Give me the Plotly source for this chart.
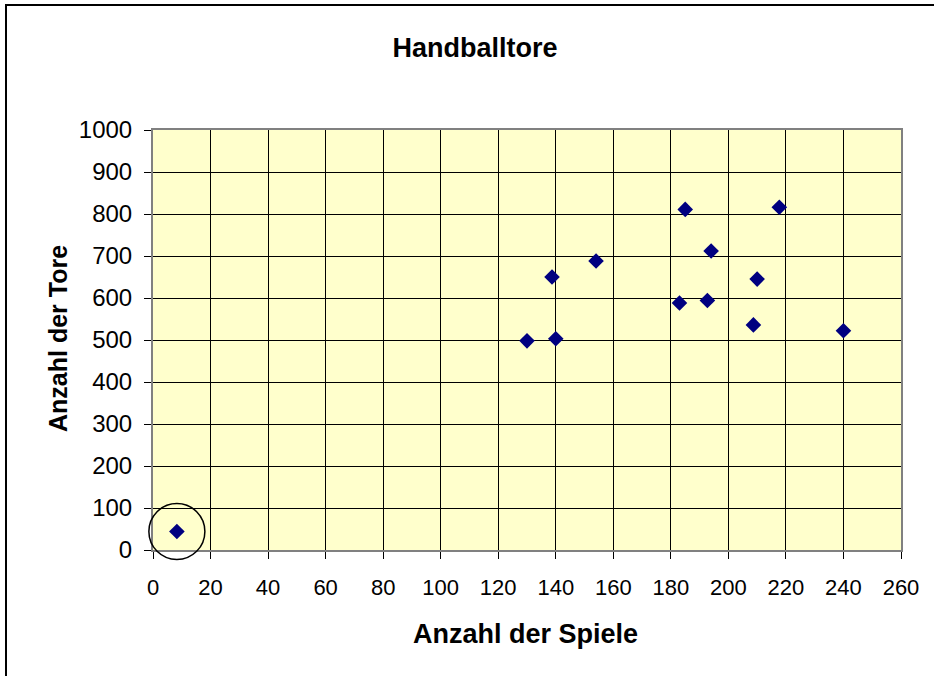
import plotly.graph_objects as go

# Data (Anzahl der Spiele, Anzahl der Tore)
spiele = [8.3, 130, 140, 138.7, 154, 185, 194, 183, 192.7, 217.7, 210, 208.7, 240]
tore = [44, 498, 503, 650, 688, 811, 712, 588, 594, 816, 645, 536, 522]

x_ticks = list(range(0, 261, 20))
y_ticks = list(range(0, 1001, 100))
x_range = [0, 260]
y_range = [0, 1000]

W, H = 934, 676
L, R, T, B = 153, 33, 130, 126
pw, ph = W - L - R, H - T - B

def px(xpix):
    return (xpix - L) / pw

def py(ypix):
    return (H - B - ypix) / ph

fig = go.Figure()
fig.add_trace(go.Scatter(
    x=spiele, y=tore, mode="markers",
    marker=dict(symbol="diamond", size=12, color="#000080"),
    showlegend=False, hoverinfo="x+y",
))

# highlight circle around outlier (paper coords derived from data, not clipped)
cxp = (spiele[0] - x_range[0]) / (x_range[1] - x_range[0])
cyp = (tore[0] - y_range[0]) / (y_range[1] - y_range[0])
rxp, ryp = 28 / pw, 28 / ph
fig.add_shape(type="circle", xref="paper", yref="paper",
              x0=cxp - rxp, x1=cxp + rxp, y0=cyp - ryp, y1=cyp + ryp,
              line=dict(color="black", width=1.5), layer="above")

# outer frame (top and left edges visible)
fig.add_shape(type="line", xref="paper", yref="paper",
              x0=px(5), x1=px(950), y0=py(5), y1=py(5),
              line=dict(color="black", width=2))
fig.add_shape(type="line", xref="paper", yref="paper",
              x0=px(6), x1=px(6), y0=py(4), y1=py(700),
              line=dict(color="black", width=2))

font = "Liberation Sans, Arial, sans-serif"

# axis titles as annotations
fig.add_annotation(text="<b>Anzahl der Spiele</b>", xref="paper", yref="paper",
                   x=px(525), y=py(634), xanchor="center", yanchor="middle",
                   showarrow=False, font=dict(family=font, size=27, color="black"))
fig.add_annotation(text="<b>Anzahl der Tore</b>", xref="paper", yref="paper",
                   x=px(58), y=py(339), xanchor="center", yanchor="middle",
                   textangle=-90, showarrow=False,
                   font=dict(family=font, size=25, color="black"))

fig.update_layout(
    width=W, height=H,
    margin=dict(l=L, r=R, t=T, b=B),
    paper_bgcolor="white",
    plot_bgcolor="#FFFFCC",
    title=dict(text="<b>Handballtore</b>", x=475 / W, xanchor="center",
               y=1 - 48 / H, yanchor="middle",
               font=dict(family=font, size=27, color="black")),
    xaxis=dict(
        range=x_range, tickvals=x_ticks, ticktext=[str(v) for v in x_ticks],
        showgrid=True, gridcolor="#000000", gridwidth=1,
        showline=True, linecolor="#808080", linewidth=2, mirror=True,
        ticks="outside", ticklen=7, tickcolor="#000000",
        tickfont=dict(family=font, size=22, color="black"),
        ticklabelstandoff=10,
        zeroline=False,
    ),
    yaxis=dict(
        range=y_range, tickvals=y_ticks, ticktext=[str(v) for v in y_ticks],
        showgrid=True, gridcolor="#000000", gridwidth=1,
        showline=True, linecolor="#808080", linewidth=2, mirror=True,
        ticks="outside", ticklen=7, tickcolor="#000000",
        tickfont=dict(family=font, size=24, color="black"),
        ticklabelstandoff=7,
        zeroline=False,
    ),
)

fig.write_html("out.html", config={"displayModeBar": False},
               post_script="document.body.style.margin='0px';")
